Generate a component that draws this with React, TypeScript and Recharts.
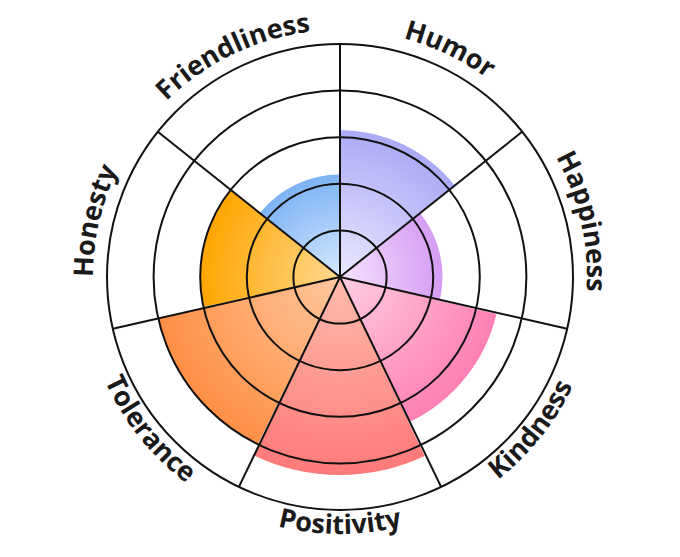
import {
  Cell,
  PolarAngleAxis,
  PolarGrid,
  PolarRadiusAxis,
  RadialBar,
  RadialBarChart,
} from "recharts";

const traits = [
  "Humor",
  "Happiness",
  "Kindness",
  "Positivity",
  "Tolerance",
  "Honesty",
  "Friendliness",
];
const scores = [63, 44, 69, 85, 80, 60, 44];
const outerColors = ["#abaaf6", "#d59cf3", "#ff7fb4", "#ff7a7a", "#ff8f45", "#ffa500", "#7db3f5"];
const innerColors = ["#ebe8ff", "#f6e3ff", "#ffcfe2", "#ffbcac", "#ffc89e", "#ffd98e", "#d6e9ff"];
const radiusTicks = [0, 20, 40, 60, 80, 100];

const WIDTH = 680;
const HEIGHT = 557;
const CX = 340;
const CY = 277;
const OUTER = 233;
const STEP = 360 / traits.length;
const spokeAngles = traits.map((_, i) => 90 - i * STEP);

const data = traits.map((name, i) => ({ name, score: scores[i] }));

// curved category label, written along the outer ring
function TraitLabel(props: any) {
  const { payload, index } = props;
  const mid = payload.coordinate + STEP / 2;
  const theta = (((90 - mid) % 360) + 360) % 360;
  const lower = theta > 100 && theta < 260;
  const r = lower ? 257 : 247;
  const span = 70;
  const a0 = ((lower ? theta + span : theta - span) * Math.PI) / 180;
  const a1 = ((lower ? theta - span : theta + span) * Math.PI) / 180;
  const pt = (a: number) => `${CX + r * Math.sin(a)} ${CY - r * Math.cos(a)}`;
  const d = `M ${pt(a0)} A ${r} ${r} 0 0 ${lower ? 0 : 1} ${pt(a1)}`;
  const id = `trait-path-${index}`;

  return (
    <g>
      <path id={id} d={d} fill="none" stroke="none" />
      <text
        fontFamily="'Open Sans', sans-serif"
        fontWeight={700}
        fontSize={27}
        fill="#1a1a1a"
      >
        <textPath href={`#${id}`} startOffset="50%" textAnchor="middle">
          {payload.value}
        </textPath>
      </text>
    </g>
  );
}

export default function App() {
  return (
    <div style={{ position: "absolute", left: 0, top: 0, background: "#fff" }}>
      <RadialBarChart
        width={WIDTH}
        height={HEIGHT}
        data={data}
        cx={CX}
        cy={CY}
        innerRadius={0}
        outerRadius={OUTER}
        startAngle={90 - STEP}
        endAngle={-270 - STEP}
        layout="centric"
        barCategoryGap="0%"
        barGap={0}
        margin={{ top: 0, right: 0, bottom: 0, left: 0 }}
      >
        <defs>
          {traits.map((t, i) => (
            <radialGradient
              key={t}
              id={`grad-${i}`}
              gradientUnits="userSpaceOnUse"
              cx={CX}
              cy={CY}
              r={(scores[i] / 100) * OUTER}
            >
              <stop offset="0%" stopColor={innerColors[i]} />
              <stop offset="100%" stopColor={outerColors[i]} />
            </radialGradient>
          ))}
        </defs>

        <PolarAngleAxis
          type="category"
          dataKey="name"
          tick={<TraitLabel />}
          tickLine={false}
          axisLine={false}
        />

        <PolarRadiusAxis
          type="number"
          domain={[0, 100]}
          ticks={radiusTicks}
          tick={false}
          axisLine={false}
        />

        <RadialBar dataKey="score" isAnimationActive={false}>
          {data.map((entry, i) => (
            <Cell key={entry.name} fill={`url(#grad-${i})`} />
          ))}
        </RadialBar>

        <PolarGrid
          gridType="circle"
          polarAngles={spokeAngles}
          stroke="#111"
          strokeWidth={2}
          strokeOpacity={1}
          zIndex={600}
        />
      </RadialBarChart>
    </div>
  );
}
